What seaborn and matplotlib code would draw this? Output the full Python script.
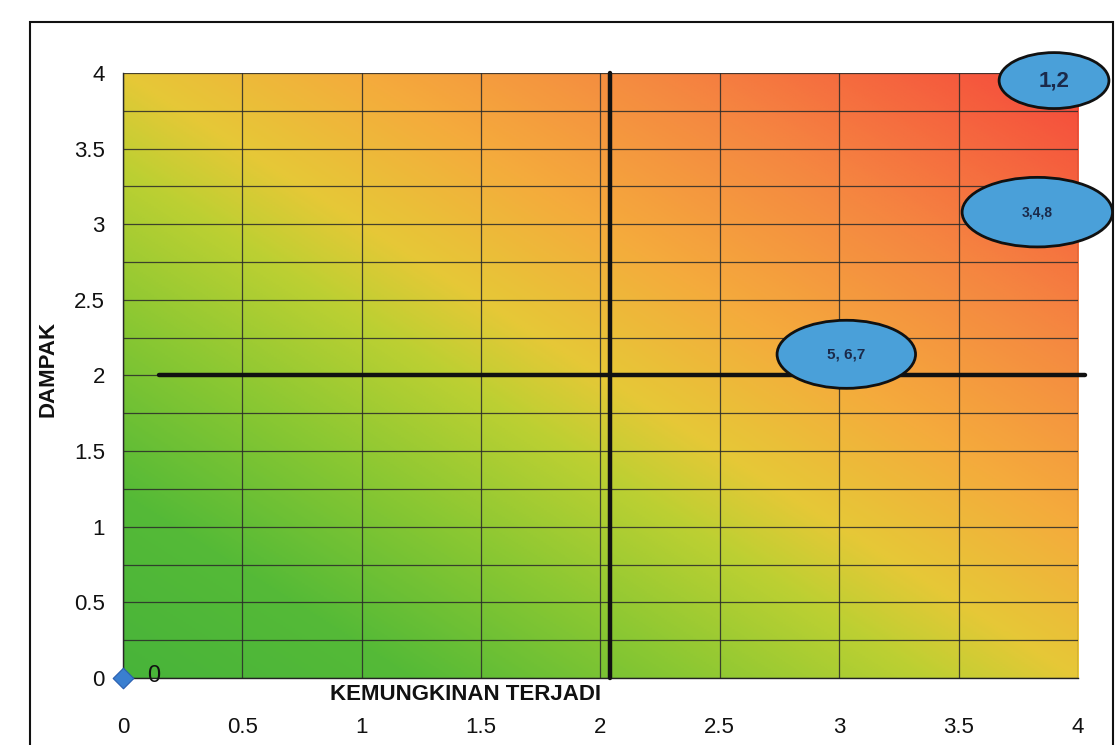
import numpy as np
import matplotlib
matplotlib.use("Agg")
import matplotlib.pyplot as plt
from matplotlib.colors import LinearSegmentedColormap
from matplotlib.patches import Ellipse, Rectangle
import seaborn as sns
import pandas as pd

# data
point_x = [0]
point_y = [0]
point_label = ["0"]

group_labels = ["1,2", "3,4,8", "5, 6,7"]
group_x = [3.90, 3.83, 3.03]
group_y = [3.95, 3.08, 2.14]
group_w = [0.46, 0.63, 0.58]
group_h = [0.37, 0.46, 0.45]
group_fs = [16, 10, 11]

x_ticks = [0, 0.5, 1, 1.5, 2, 2.5, 3, 3.5, 4]
y_ticks = [0, 0.5, 1, 1.5, 2, 2.5, 3, 3.5, 4]

hline_x = [0.15, 4.03]
hline_y = [2, 2]
vline_x = [2.04, 2.04]
vline_y = [0, 4]

sns.set_style("white")
plt.rcParams['font.family'] = ['Liberation Sans', 'DejaVu Sans']

fig = plt.figure(figsize=(11.17, 7.45), dpi=100)
ax = fig.add_axes([0.110, 0.090, 0.855, 0.812])

# diagonal green -> yellow -> red background
cmap = LinearSegmentedColormap.from_list("risk", [
    (0.00, (72/255, 180/255, 58/255)),
    (0.15, (85/255, 186/255, 55/255)),
    (0.30, (140/255, 200/255, 50/255)),
    (0.42, (188/255, 208/255, 50/255)),
    (0.50, (230/255, 200/255, 55/255)),
    (0.62, (244/255, 172/255, 60/255)),
    (0.78, (245/255, 135/255, 65/255)),
    (1.00, (245/255, 72/255, 60/255)),
])
gx, gy = np.meshgrid(np.linspace(0, 4, 300), np.linspace(0, 4, 300))
ax.imshow((gx + gy) / 8, cmap=cmap, extent=[0, 4, 0, 4], origin="lower",
          aspect="auto", zorder=0, vmin=0, vmax=1)

ax.set_xlim(0, 4)
ax.set_ylim(0, 4)
ax.set_xticks(x_ticks)
ax.set_yticks(y_ticks)
ax.set_xticklabels([f"{v:g}" for v in x_ticks])
ax.set_yticklabels([f"{v:g}" for v in y_ticks])
ax.set_yticks(np.arange(0, 4.01, 0.25), minor=True)
ax.grid(True, which="major", color="#2a2a2a", lw=0.9, alpha=0.85, zorder=1)
ax.grid(True, which="minor", axis="y", color="#2a2a2a", lw=0.9, alpha=0.85, zorder=1)
ax.set_axisbelow(False)

for s in ["top", "right"]:
    ax.spines[s].set_visible(False)
for s in ["left", "bottom"]:
    ax.spines[s].set_color("#222222")
    ax.spines[s].set_linewidth(1.0)

ax.tick_params(axis="x", which="major", direction="out", length=8, width=1,
               color="#222222", pad=20, labelsize=16, labelcolor="#111111")
ax.tick_params(axis="y", which="major", direction="out", length=5, width=1,
               color="#222222", pad=8, labelsize=16, labelcolor="#111111")
ax.tick_params(axis="y", which="minor", length=0)

# thick quadrant lines
lines = pd.DataFrame({"x": hline_x + vline_x, "y": hline_y + vline_y,
                      "seg": ["h", "h", "v", "v"]})
sns.lineplot(data=lines, x="x", y="y", units="seg", estimator=None, sort=False,
             color="#111111", lw=3.2, ax=ax, zorder=3, clip_on=False)

# origin point
pts = pd.DataFrame({"x": point_x, "y": point_y})
sns.scatterplot(data=pts, x="x", y="y", marker="D", s=110, color="#3a7fd0",
                edgecolor="#2a5fb0", ax=ax, zorder=5, clip_on=False)
for x, y, t in zip(point_x, point_y, point_label):
    ax.text(x + 0.13, y + 0.01, t, fontsize=17, va="center", ha="center",
            color="#111111", zorder=6)

# group ellipses
for x, y, w, h, t, fs in zip(group_x, group_y, group_w, group_h, group_labels, group_fs):
    ax.add_patch(Ellipse((x, y), w, h, facecolor="#4aa0d9", edgecolor="#111111",
                         lw=2, zorder=6, clip_on=False))
    ax.text(x, y, t, fontsize=fs, fontweight="bold", color="#1b2a4a",
            ha="center", va="center", zorder=7)

ax.set_xlabel("KEMUNGKINAN TERJADI", fontsize=16, fontweight="bold", color="#111111")
ax.xaxis.set_label_coords(0.359, -0.010)
ax.set_ylabel("DAMPAK", fontsize=16, fontweight="bold", color="#111111")
ax.yaxis.set_label_coords(-0.067, 0.51)

# outer chart frame
fig.patches.append(Rectangle((0.027, -0.02), 0.969, 0.99, transform=fig.transFigure,
                             fill=False, edgecolor="#111111", lw=1.5))

fig.savefig("out.png", dpi=100)
